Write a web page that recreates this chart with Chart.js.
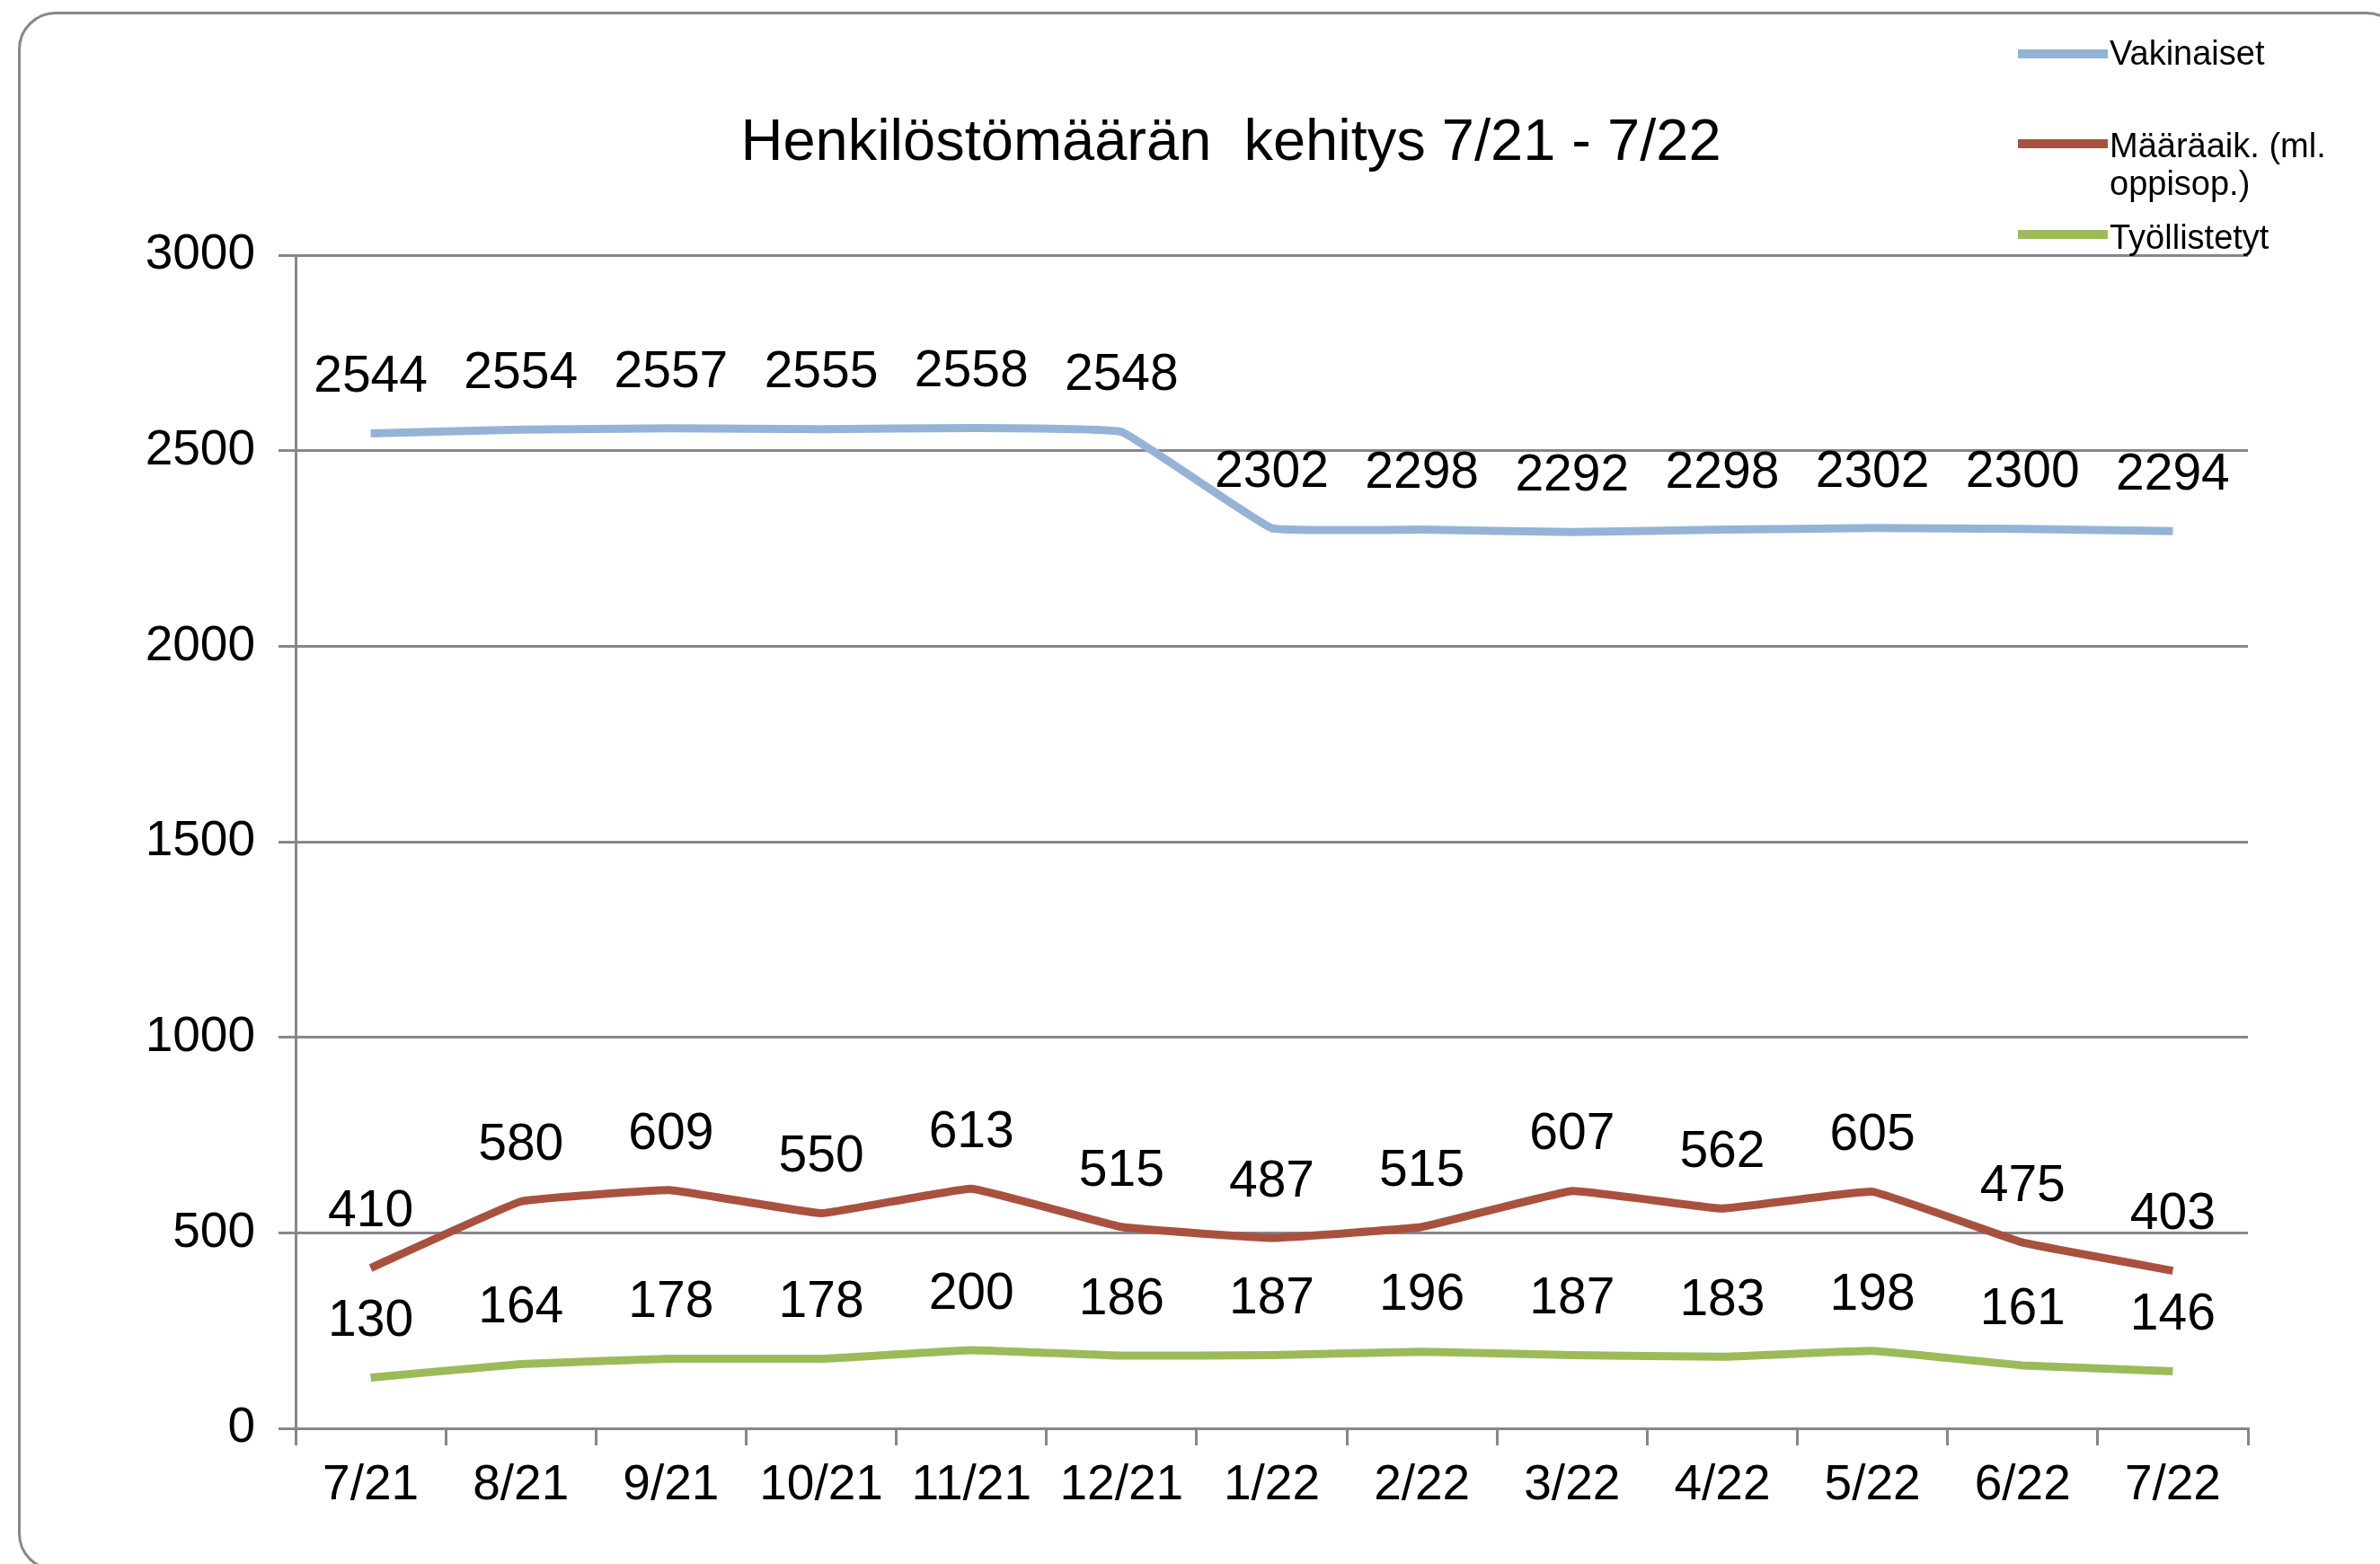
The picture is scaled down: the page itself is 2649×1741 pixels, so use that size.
<!DOCTYPE html>
<html>
<head>
<meta charset="utf-8">
<script src="https://cdn.jsdelivr.net/npm/chart.js@4"></script>
<style>
  body { margin: 0; background: #fff; }
  #wrap { position: relative; width: 2649px; height: 1741px; overflow: hidden; }
  #frame {
    position: absolute; left: 20px; top: 13px; width: 2650px; height: 1730px;
    border: 3px solid #888; border-radius: 42px; pointer-events: none;
  }
</style>
</head>
<body>
<div id="wrap">
  <canvas id="myChart" width="2649" height="1741"></canvas>
  <div id="frame"></div>
</div>
<script>
// data
var months = ['7/21', '8/21', '9/21', '10/21', '11/21', '12/21', '1/22', '2/22', '3/22', '4/22', '5/22', '6/22', '7/22'];
var vakinaiset = [2544, 2554, 2557, 2555, 2558, 2548, 2302, 2298, 2292, 2298, 2302, 2300, 2294];
var maaraaik = [410, 580, 609, 550, 613, 515, 487, 515, 607, 562, 605, 475, 403];
var tyollistetyt = [130, 164, 178, 178, 200, 186, 187, 196, 187, 183, 198, 161, 146];
var seriesNames = ['Vakinaiset', 'Määräaik. (ml. oppisop.)', 'Työllistetyt'];
var legendLines = [['Vakinaiset'], ['Määräaik. (ml.', 'oppisop.)'], ['Työllistetyt']];
var yTicks = [0, 500, 1000, 1500, 2000, 2500, 3000];
var chartTitle = 'Henkilöstömäärän  kehitys 7/21 - 7/22';

var colors = ['#95b3d7', '#a9513f', '#9bbb59'];
var gridColor = '#878787';
var FONT = '"Liberation Sans", Arial, sans-serif';

// value labels above every point
const valueLabels = {
  id: 'valueLabels',
  afterDatasetsDraw(chart) {
    const ctx = chart.ctx;
    ctx.save();
    ctx.font = '57px ' + FONT;
    ctx.fillStyle = '#000';
    ctx.textAlign = 'center';
    ctx.textBaseline = 'middle';
    chart.data.datasets.forEach((ds, di) => {
      chart.getDatasetMeta(di).data.forEach((pt, i) => {
        ctx.fillText(String(ds.data[i]), pt.x, pt.y - 62);
      });
    });
    ctx.restore();
  }
};

// title is centred a bit left of the plot in the original
const titleShift = {
  id: 'titleShift',
  afterLayout(chart) {
    const tb = chart.titleBlock;
    if (tb) tb.left = 2 * 1370 - tb.right;
  }
};

// legend in the top right corner, like the excel one
const sideLegend = {
  id: 'sideLegend',
  afterDraw(chart) {
    const ctx = chart.ctx;
    const rows = [{ y: 60, base: [72] }, { y: 160, base: [175, 217] }, { y: 261, base: [277] }];
    ctx.save();
    ctx.font = '38px ' + FONT;
    ctx.fillStyle = '#000';
    ctx.textAlign = 'left';
    ctx.textBaseline = 'alphabetic';
    rows.forEach((r, i) => {
      ctx.strokeStyle = colors[i];
      ctx.lineWidth = 10;
      ctx.beginPath();
      ctx.moveTo(2246, r.y);
      ctx.lineTo(2346, r.y);
      ctx.stroke();
      legendLines[i].forEach((t, k) => ctx.fillText(t, 2348, r.base[k]));
    });
    ctx.restore();
  }
};

const data = {
  labels: months,
  datasets: [
    { label: seriesNames[0], data: vakinaiset, borderColor: colors[0] },
    { label: seriesNames[1], data: maaraaik, borderColor: colors[1] },
    { label: seriesNames[2], data: tyollistetyt, borderColor: colors[2] }
  ]
};
data.datasets.forEach(d => {
  d.borderWidth = 9;
  d.pointRadius = 0;
  d.tension = 0.08;
  d.fill = false;
});

const config = {
  type: 'line',
  data,
  options: {
    responsive: false,
    animation: false,
    devicePixelRatio: 1,
    events: [],
    layout: { padding: { left: 130, right: 147, top: 0, bottom: 0 } },
    plugins: {
      legend: { display: false },
      tooltip: { enabled: false },
      title: {
        display: true,
        text: chartTitle,
        color: '#000',
        font: { family: FONT, size: 65, weight: 'normal' },
        padding: { top: 121, bottom: 85 }
      }
    },
    scales: {
      x: {
        offset: true,
        grid: { offset: true, drawOnChartArea: false, drawTicks: true, tickLength: 19, color: gridColor, lineWidth: 3 },
        border: { color: gridColor, width: 3 },
        ticks: { color: '#000', font: { family: FONT, size: 55 }, padding: 12, maxRotation: 0, autoSkip: false },
        afterFit(scale) { scale.height = 151; }
      },
      y: {
        min: 0,
        max: 3000,
        afterBuildTicks(scale) { scale.ticks = yTicks.map(v => ({ value: v })); },
        grid: { color: gridColor, lineWidth: 3, tickLength: 19 },
        border: { color: gridColor, width: 3 },
        ticks: { color: '#000', font: { family: FONT, size: 55 }, padding: 26, callback: v => String(v) },
        afterFit(scale) { scale.width = 199; }
      }
    }
  },
  plugins: [valueLabels, titleShift, sideLegend]
};

const myChart = new Chart(document.getElementById('myChart'), config);
</script>
</body>
</html>
